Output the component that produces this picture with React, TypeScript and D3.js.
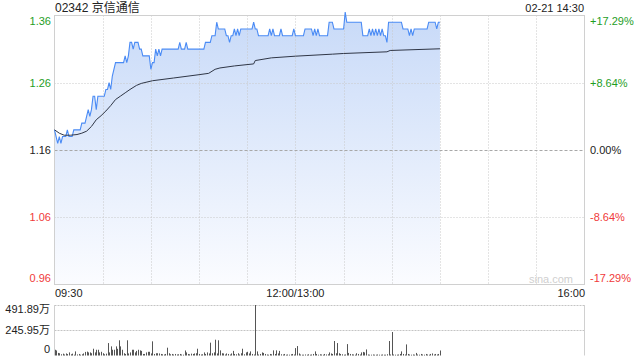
import React from "react";
import * as d3 from "d3";

const title = "02342 京信通信";
const stamp = "02-21 14:30";
const prevClose = 1.16;
const priceTicks = [1.36, 1.26, 1.16, 1.06, 0.96];
const pctTicks = ["+17.29%", "+8.64%", "0.00%", "-8.64%", "-17.29%"];
const timeLabels = ["09:30", "12:00/13:00", "16:00"];
const timeLabelMinutes = [0, 150, 330];
const volTicks = [491.89, 245.95, 0];
const volTickLabels = ["491.89万", "245.95万", "0"];

// one price per minute, 09:30 .. 14:30 (trading minutes)
const prices = [
  1.19, 1.18, 1.17, 1.18, 1.17, 1.18, 1.18, 1.18, 1.19, 1.18,
  1.18, 1.18, 1.19, 1.19, 1.19, 1.19, 1.19, 1.20, 1.20, 1.20,
  1.21, 1.22, 1.21, 1.22, 1.24, 1.24, 1.22, 1.24, 1.24, 1.24,
  1.24, 1.24, 1.25, 1.25, 1.26, 1.25, 1.27, 1.28, 1.29, 1.29,
  1.29, 1.29, 1.29, 1.29, 1.30, 1.29, 1.30, 1.32, 1.32, 1.31,
  1.32, 1.32, 1.32, 1.31, 1.31, 1.30, 1.30, 1.30, 1.30, 1.30,
  1.28, 1.29, 1.29, 1.31, 1.30, 1.31, 1.30, 1.31, 1.31, 1.31,
  1.31, 1.31, 1.31, 1.31, 1.31, 1.31, 1.31, 1.31, 1.32, 1.31,
  1.31, 1.31, 1.32, 1.31, 1.31, 1.31, 1.31, 1.31, 1.31, 1.31,
  1.31, 1.31, 1.31, 1.31, 1.32, 1.32, 1.32, 1.32, 1.33, 1.33,
  1.33, 1.35, 1.34, 1.34, 1.34, 1.34, 1.34, 1.33, 1.33, 1.32,
  1.33, 1.33, 1.34, 1.33, 1.34, 1.33, 1.34, 1.34, 1.34, 1.34,
  1.34, 1.34, 1.34, 1.34, 1.35, 1.34, 1.34, 1.33, 1.33, 1.33,
  1.33, 1.33, 1.33, 1.33, 1.34, 1.33, 1.34, 1.33, 1.33, 1.33,
  1.33, 1.34, 1.33, 1.33, 1.33, 1.33, 1.33, 1.33, 1.33, 1.34,
  1.33, 1.33, 1.33, 1.33, 1.33, 1.33, 1.34, 1.34, 1.34, 1.34,
  1.34, 1.33, 1.34, 1.33, 1.34, 1.33, 1.33, 1.33, 1.33, 1.33,
  1.33, 1.35, 1.35, 1.35, 1.34, 1.34, 1.34, 1.34, 1.34, 1.34,
  1.34, 1.365, 1.35, 1.35, 1.35, 1.35, 1.35, 1.35, 1.35, 1.35,
  1.35, 1.35, 1.33, 1.33, 1.33, 1.33, 1.34, 1.33, 1.34, 1.33,
  1.34, 1.33, 1.34, 1.33, 1.34, 1.33, 1.33, 1.32, 1.35, 1.35,
  1.35, 1.35, 1.35, 1.35, 1.35, 1.35, 1.35, 1.34, 1.34, 1.34,
  1.34, 1.33, 1.34, 1.33, 1.34, 1.34, 1.34, 1.34, 1.34, 1.34,
  1.34, 1.34, 1.34, 1.35, 1.35, 1.35, 1.35, 1.35, 1.34, 1.35,
  1.35,
];

// average price line, read at these minutes
const avgMinutes = [0, 3, 6, 10, 14, 17, 20, 23, 26, 29, 32, 35, 38, 41, 44, 47, 51, 54, 61, 74, 90, 96, 100, 103, 112, 124, 125, 135, 150, 173, 180, 207, 209, 240];
const avgValues = [1.19, 1.185, 1.182, 1.182, 1.183, 1.185, 1.188, 1.195, 1.205, 1.211, 1.218, 1.226, 1.235, 1.24, 1.245, 1.25, 1.256, 1.259, 1.263, 1.267, 1.272, 1.274, 1.28, 1.282, 1.285, 1.288, 1.293, 1.297, 1.2995, 1.3025, 1.3035, 1.306, 1.308, 1.3105];

// volume per minute (万)
const volumes = [
  56, 49, 25, 22, 12, 18, 10, 20, 14, 30,
  12, 18, 8, 40, 10, 15, 8, 12, 20, 35,
  38, 30, 30, 22, 66, 30, 56, 56, 30, 36,
  22, 12, 18, 121, 30, 89, 56, 56, 89, 65,
  148, 89, 56, 22, 15, 148, 20, 30, 56, 56,
  30, 45, 56, 50, 45, 15, 15, 30, 36, 36,
  20, 138, 15, 22, 22, 20, 15, 12, 10, 15,
  76, 22, 12, 15, 10, 15, 10, 12, 15, 10,
  8, 49, 30, 15, 12, 18, 15, 20, 22, 66,
  15, 10, 12, 30, 15, 30, 20, 125, 22, 30,
  154, 20, 148, 50, 22, 20, 10, 20, 15, 10,
  20, 45, 15, 12, 22, 10, 22, 66, 12, 30,
  36, 20, 40, 15, 10, 491.89, 40, 10, 15, 30,
  25, 15, 10, 8, 15, 12, 50, 15, 50, 20,
  45, 12, 10, 15, 8, 10, 8, 12, 15, 10,
  72, 92, 20, 10, 8, 8, 10, 8, 12, 8,
  10, 15, 40, 15, 8, 12, 10, 8, 15, 10,
  12, 30, 20, 15, 141, 22, 121, 22, 15, 12,
  8, 10, 111, 25, 15, 12, 10, 8, 22, 15,
  10, 30, 35, 30, 59, 10, 8, 8, 10, 8,
  8, 10, 8, 8, 10, 8, 8, 12, 141, 10,
  229, 10, 8, 8, 10, 15, 40, 15, 10, 108,
  15, 10, 8, 10, 8, 25, 10, 8, 15, 10,
  8, 15, 10, 8, 15, 20, 10, 15, 10, 15,
  49,
];

const FONT = "'Liberation Sans', Arial, sans-serif";
const GREEN = "#1f9e1f";
const RED = "#f03a3a";

export default function App() {
  const left = 54.5, right = 584.5, top = 15.5, bottom = 284.5;
  const x = d3.scaleLinear().domain([0, 330]).range([left, right]);
  const y = d3.scaleLinear().domain([0.96, 1.36]).range([bottom, top]);
  const vTop = 305, vBottom = 355.5;
  const vy = d3.scaleLinear().domain([0, 491.89]).range([vBottom, vTop]);

  const line = d3.line<number>().x((_, i) => x(i)).y((d) => y(d));
  const area = d3.area<number>().x((_, i) => x(i)).y0(bottom).y1((d) => y(d));
  const avgLine = d3.line<number>().x((_, i) => x(avgMinutes[i])).y((d) => y(d));

  const vGrid = d3.range(1, 11).map((k) => Math.round(x(k * 30)) + 0.5);

  const labelY = (i: number, n: number, base: number) => (i === 0 ? base + 5 : i === n - 1 ? base - 7 : base);

  return (
    <svg width={640} height={360} style={{ position: "absolute", left: 0, top: 0, background: "#fff" }} fontFamily={FONT}>
      <defs>
        <linearGradient id="fillg" gradientUnits="userSpaceOnUse" x1="0" y1={top} x2="0" y2={bottom}>
          <stop offset="0" stopColor="#c8daf8" />
          <stop offset="1" stopColor="#fbfcff" />
        </linearGradient>
      </defs>
      <text x={55} y={12} fontSize={12} fill="#222" fontFamily={"'Liberation Sans', 'Noto Sans CJK SC', sans-serif"}>{title}</text>
      <text x={584} y={12} fontSize={11} fill="#222" textAnchor="end">{stamp}</text>

      <path d={area(prices) || ""} fill="url(#fillg)" />

      {vGrid.map((gx, i) => (
        <line key={"vg" + i} x1={gx} x2={gx} y1={top} y2={bottom} stroke="#c8c8c8" strokeDasharray="1,2" />
      ))}
      {priceTicks.slice(1, 4).map((p, i) => (
        <line key={"hg" + i} x1={left} x2={right} y1={Math.round(y(p)) + 0.5} y2={Math.round(y(p)) + 0.5}
          stroke={p === prevClose ? "#a8a8a8" : "#c8c8c8"} strokeDasharray={p === prevClose ? "3,2" : "1,2"} />
      ))}
      <rect x={left} y={top} width={right - left} height={bottom - top} fill="none" stroke="#d0d0d0" />

      <text x={573} y={283} fontSize={11} fill="#cfcfcf" textAnchor="end">sina.com</text>

      <path d={line(prices) || ""} fill="none" stroke="#4a8bf5" strokeWidth={1.1} />
      <path d={avgLine(avgValues) || ""} fill="none" stroke="#2f3646" strokeWidth={1} />

      {priceTicks.map((p, i) => (
        <text key={"pl" + i} x={51} y={labelY(i, priceTicks.length, y(p)) + 4} fontSize={11} textAnchor="end"
          fill={p > prevClose ? GREEN : p < prevClose ? RED : "#222"}>{p.toFixed(2)}</text>
      ))}
      {pctTicks.map((t, i) => (
        <text key={"pc" + i} x={590} y={labelY(i, pctTicks.length, y(priceTicks[i])) + 4} fontSize={11}
          fill={i < 2 ? GREEN : i > 2 ? RED : "#222"}>{t}</text>
      ))}

      {timeLabels.map((t, i) => (
        <text key={"tl" + i} x={i === 2 ? 585 : x(timeLabelMinutes[i]) + (i === 0 ? 0.5 : 0)} y={297} fontSize={11} fill="#222"
          textAnchor={i === 0 ? "start" : i === 1 ? "middle" : "end"}>{t}</text>
      ))}

      {/* volume panel */}
      <line x1={left} x2={right} y1={vTop + 0.5} y2={vTop + 0.5} stroke="#c4c4c4" strokeDasharray="2,1" />
      <line x1={left} x2={right} y1={Math.round(vy(245.95)) + 0.5} y2={Math.round(vy(245.95)) + 0.5} stroke="#c4c4c4" strokeDasharray="2,1" />
      <line x1={left} x2={left} y1={vTop} y2={vBottom} stroke="#d0d0d0" />
      <line x1={right} x2={right} y1={vTop} y2={vBottom} stroke="#d0d0d0" />
      {volumes.map((v, i) => (
        <line key={"vb" + i} x1={Math.round(x(i)) + 0.5} x2={Math.round(x(i)) + 0.5} y1={vBottom} y2={vy(v)} stroke="#555" strokeWidth={1} />
      ))}
      {volTicks.map((v, i) => (
        <text key={"vl" + i} x={50} y={labelY(i, volTicks.length, vy(v)) + (i === 0 ? 3 : 4)} fontSize={11} fill="#222" textAnchor="end"
          fontFamily={"'Liberation Sans', 'Noto Sans CJK SC', sans-serif"}>{volTickLabels[i]}</text>
      ))}
    </svg>
  );
}
